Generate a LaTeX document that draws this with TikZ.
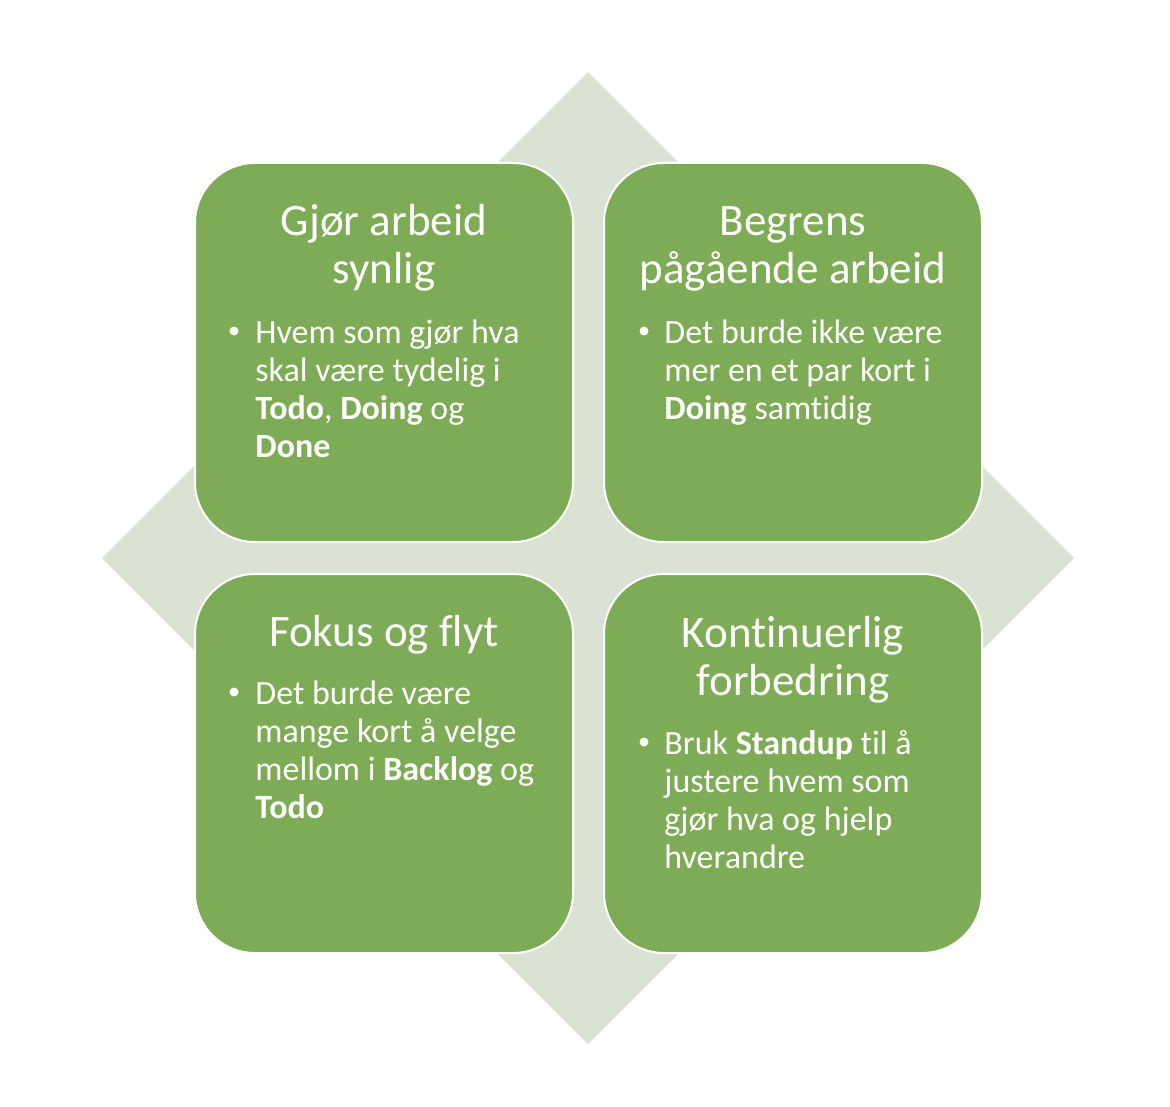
\documentclass[tikz,border=0pt]{standalone}
\usepackage{fontspec}
\setmainfont{Carlito}[Ligatures=NoCommon]
\usetikzlibrary{calc,positioning}
\definecolor{cardgreen}{RGB}{126,171,85}
\definecolor{diamondgray}{RGB}{218,227,211}

\begin{document}
\begin{tikzpicture}[
  x=0.5pt, y=-0.5pt,
  card/.style={draw=white, line width=1pt, fill=cardgreen, rounded corners=30pt,
    minimum width=189pt, minimum height=189.5pt, inner sep=0pt},
  ttl/.style={font=\fontsize{22.5}{24}\selectfont, text=white, align=center, anchor=base, inner sep=0pt},
  bul/.style={font=\fontsize{17}{19}\selectfont, text=white, align=left, anchor=base west, inner sep=0pt},
  dot/.style={circle, fill=white, inner sep=0pt, minimum size=4.5pt}
]
\useasboundingbox (0,0) rectangle (1170,1106);

% background diamond
\fill[diamondgray] (588,72) -- (1074,558) -- (588,1044) -- (102,558) -- cycle;

% the four cards
\node[card] (tl) at (384,352.5) {};
\node[card, right=14.5pt of tl] (tr) {};
\node[card, below=15pt of tl] (bl) {};
\node[card, below=15pt of tr] (br) {};

% top left (base anchor sits on the last line)
\node[ttl] (tltitle) at ($(tl.north)+(0,122)$) {Gjør arbeid\\synlig};
\node[dot] (tldot) at ($(tl.north west)+(40,169)$) {};
\node[bul] (tltext) at ($(tl.north west)+(61,295)$)
  {Hvem som gjør hva\\skal være tydelig i\\\textbf{Todo}, \textbf{Doing} og\\\textbf{Done}};

% top right
\node[ttl] (trtitle) at ($(tr.north)+(0,122)$) {Begrens\\pågående arbeid};
\node[dot] (trdot) at ($(tr.north west)+(41,169)$) {};
\node[bul] (trtext) at ($(tr.north west)+(61,257)$)
  {Det burde ikke være\\mer en et par kort i\\\textbf{Doing} samtidig};

% bottom left
\node[ttl] (bltitle) at ($(bl.north)+(0,73)$) {Fokus og flyt};
\node[dot] (bldot) at ($(bl.north west)+(40,119)$) {};
\node[bul] (bltext) at ($(bl.north west)+(61,245)$)
  {Det burde være\\mange kort å velge\\mellom i \textbf{Backlog} og\\\textbf{Todo}};

% bottom right
\node[ttl] (brtitle) at ($(br.north)+(0,122)$) {Kontinuerlig\\forbedring};
\node[dot] (brdot) at ($(br.north west)+(41,169)$) {};
\node[bul] (brtext) at ($(br.north west)+(61,295)$)
  {Bruk \textbf{Standup} til å\\justere hvem som\\gjør hva og hjelp\\hverandre};
\end{tikzpicture}
\end{document}
